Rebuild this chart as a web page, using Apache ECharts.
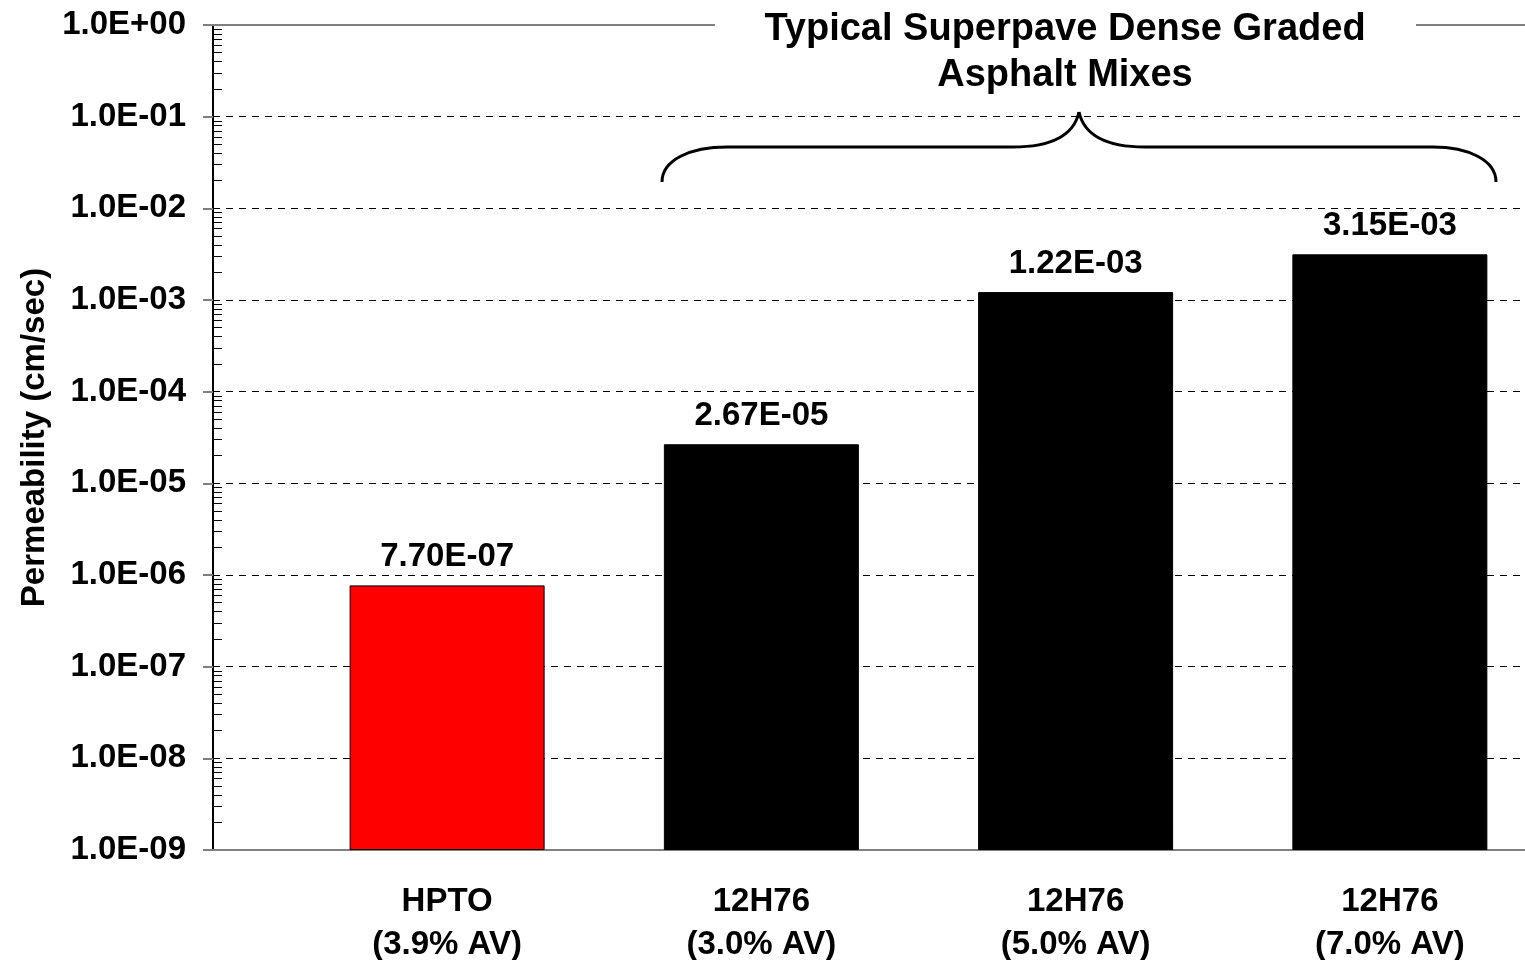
<!DOCTYPE html>
<html>
<head>
<meta charset="utf-8">
<script src="https://cdn.jsdelivr.net/npm/echarts@6/dist/echarts.min.js"></script>
<style>
  html, body { margin: 0; padding: 0; background: #fff; }
  #chart { width: 1525px; height: 960px; }
</style>
</head>
<body>
<div id="chart"></div>
<script>
// data
const categories = ['HPTO\n(3.9% AV)', '12H76\n(3.0% AV)', '12H76\n(5.0% AV)', '12H76\n(7.0% AV)']
const permeability = [7.70e-7, 2.67e-5, 1.22e-3, 3.15e-3]
const barColors = ['#ff0000', '#000000', '#000000', '#000000']
const yMin = 1e-9
const yMax = 1
const titleText = 'Typical Superpave Dense Graded\nAsphalt Mixes'
const yName = 'Permeability (cm/sec)'

const font = "'Liberation Sans', Arial, sans-serif"

// 1.0E-05 style
function sci(v, digits) {
  const parts = v.toExponential(digits).toUpperCase().split('E')
  const exp = parseInt(parts[1], 10)
  const sign = exp < 0 ? '-' : '+'
  const e = Math.abs(exp)
  return parts[0] + 'E' + sign + (e < 10 ? '0' + e : '' + e)
}

// minor ticks 2..9 of each decade
const minorTicks = []
for (let d = -9; d < 0; d++) {
  for (let m = 2; m <= 9; m++) {
    minorTicks.push(Number((m * Math.pow(10, d)).toPrecision(3)))
  }
}

// curly brace over the three 12H76 bars
const braceStyle = { stroke: '#000', lineWidth: 3, fill: 'none' }
const brace = [
  { type: 'bezierCurve', shape: { x1: 662, y1: 182, cpx1: 662, cpy1: 160, cpx2: 690, cpy2: 147, x2: 727, y2: 147 } },
  { type: 'line', shape: { x1: 727, y1: 147, x2: 1013, y2: 147 } },
  { type: 'bezierCurve', shape: { x1: 1013, y1: 147, cpx1: 1060, cpy1: 147, cpx2: 1075, cpy2: 130, x2: 1079, y2: 112 } },
  { type: 'bezierCurve', shape: { x1: 1079, y1: 112, cpx1: 1083, cpy1: 130, cpx2: 1098, cpy2: 147, x2: 1145, y2: 147 } },
  { type: 'line', shape: { x1: 1145, y1: 147, x2: 1433, y2: 147 } },
  { type: 'bezierCurve', shape: { x1: 1433, y1: 147, cpx1: 1468, cpy1: 147, cpx2: 1496, cpy2: 160, x2: 1496, y2: 182 } }
].map(g => Object.assign(g, { z: 101, style: braceStyle }))

const chart = echarts.init(document.getElementById('chart'))

chart.setOption({
  animation: false,
  backgroundColor: '#fff',
  textStyle: { fontFamily: font },
  grid: { left: 213, right: 0, top: 25, bottom: 110, outerBoundsMode: 'none' },
  xAxis: [{
    type: 'value',
    min: -0.745,
    max: 3.43,
    axisLine: { lineStyle: { color: '#808080', width: 2 } },
    axisTick: { show: false },
    splitLine: { show: false },
    axisLabel: {
      customValues: [0, 1, 2, 3],
      formatter: v => categories[Math.round(v)],
      color: '#000',
      fontWeight: 'bold',
      fontSize: 33,
      lineHeight: 43,
      margin: 30,
      fontFamily: font
    }
  }, {
    type: 'value',
    position: 'top',
    min: -0.745,
    max: 3.43,
    axisLine: { show: true, lineStyle: { color: '#808080', width: 2 } },
    axisTick: { show: false },
    axisLabel: { show: false },
    splitLine: { show: false }
  }],
  yAxis: [{
    type: 'log',
    logBase: 10,
    min: yMin,
    max: yMax,
    startValue: yMin,
    splitNumber: 9,
    name: yName,
    nameLocation: 'middle',
    nameRotate: 90,
    nameGap: 162,
    nameTextStyle: { color: '#000', fontWeight: 'bold', fontSize: 33, fontFamily: font },
    axisLine: { show: true, onZero: false, lineStyle: { color: '#000', width: 2 } },
    axisTick: { show: true, length: 10, lineStyle: { color: '#808080', width: 2 } },
    axisLabel: {
      formatter: v => sci(v, 1),
      color: '#000',
      fontWeight: 'bold',
      fontSize: 33,
      margin: 27,
      fontFamily: font
    },
    splitLine: {
      show: true,
      showMinLine: false,
      showMaxLine: false,
      lineStyle: { color: '#000', width: 1, type: [7, 6] }
    }
  }, {
    type: 'log',
    logBase: 10,
    min: yMin,
    max: yMax,
    position: 'left',
    axisLine: { show: false, onZero: false },
    axisLabel: { show: false },
    splitLine: { show: false },
    axisTick: {
      show: true,
      inside: true,
      length: 9,
      customValues: minorTicks,
      lineStyle: { color: '#000', width: 1 }
    }
  }],
  series: [{
    type: 'bar',
    xAxisIndex: 0,
    yAxisIndex: 0,
    barWidth: 195,
    data: permeability.map((v, i) => ({
      value: [i, v],
      itemStyle: { color: barColors[i], borderColor: '#000', borderWidth: 1 }
    })),
    label: {
      show: true,
      position: 'top',
      distance: 12,
      formatter: p => sci(p.value[1], 2),
      color: '#000',
      fontWeight: 'bold',
      fontSize: 33,
      fontFamily: font
    }
  }],
  graphic: [{
    type: 'rect',
    shape: { x: 715, y: 15, width: 701, height: 22 },
    style: { fill: '#fff' },
    z: 100
  }, {
    type: 'text',
    x: 1065,
    y: 7,
    z: 101,
    style: {
      text: titleText,
      fill: '#000',
      font: 'bold 38px ' + font,
      lineHeight: 46,
      align: 'center',
      verticalAlign: 'top'
    }
  }].concat(brace)
})
</script>
</body>
</html>
